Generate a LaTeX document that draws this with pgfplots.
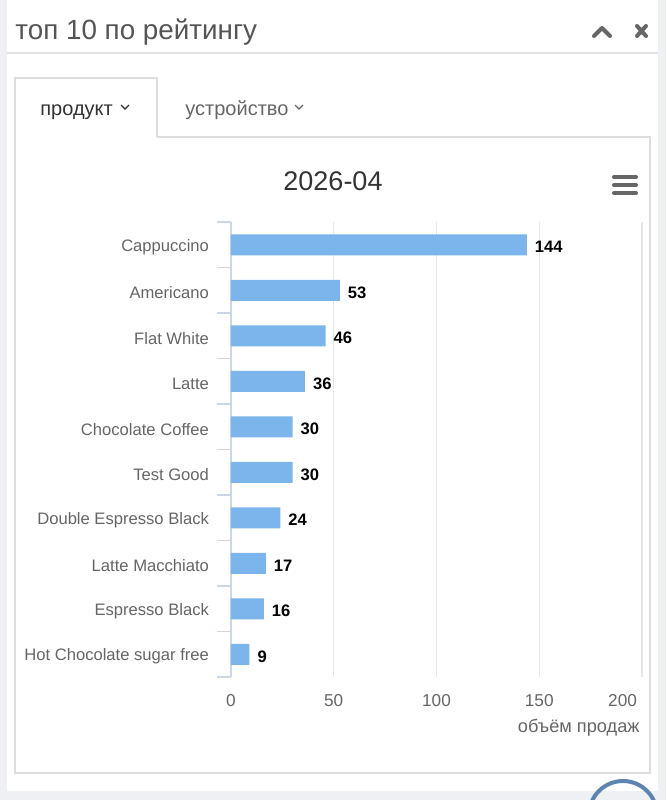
\documentclass[border=0pt]{standalone}
\usepackage{fontspec}
\setmainfont{Liberation Sans}
\usepackage{pgfplots}
\pgfplotsset{compat=1.18}
\definecolor{bgray}{HTML}{EFF0F4}
\definecolor{sepgray}{HTML}{E3E3E3}
\definecolor{tabgray}{HTML}{DDDDDD}
\definecolor{hdtext}{HTML}{555555}
\definecolor{lbl}{HTML}{666666}
\definecolor{ttl}{HTML}{333333}
\definecolor{axcol}{HTML}{CCD6EB}
\definecolor{gridcol}{HTML}{E6E6E6}
\definecolor{barcol}{HTML}{7CB5EC}
\definecolor{ringcol}{HTML}{5B84B1}
\begin{document}
\begin{tikzpicture}
\begin{scope}[x=0.5pt,y=-0.5pt]
\useasboundingbox (0,0) rectangle (666,800);
\clip (0,0) rectangle (666,800);
\fill[bgray] (0,0) rectangle (666,800);
\fill[white] (7,0) rectangle (658,791);
\draw[sepgray, line width=0.8pt] (7,53) -- (658,53);
\node[anchor=base west, text=hdtext, font=\fontsize{13.9}{16}\selectfont, inner sep=0pt] at (15,39.5) {топ 10 по рейтингу};
\draw[lbl, line width=2pt, line cap=round, line join=round] (594,36) -- (602,28) -- (610,36);
\draw[lbl, line width=2pt, line cap=round] (637,26) -- (646,36) (637,36) -- (646,26);
% tab and panel
\draw[tabgray, line width=0.6pt] (157,137) -- (157,78) -- (15,78) -- (15,773) -- (650,773) -- (650,137) -- (157,137);
\node[anchor=base west, text=ttl, font=\fontsize{10}{12}\selectfont, inner sep=0pt] at (40,115) {продукт};
\draw[ttl, line width=0.6pt] (121,105) -- (125,109) -- (129,105);
\node[anchor=base west, text=lbl, font=\fontsize{10}{12}\selectfont, inner sep=0pt] at (185,115) {устройство};
\draw[lbl, line width=0.6pt] (295,105) -- (299,109) -- (303,105);
% chart title and menu
\node[text=ttl, font=\fontsize{13.5}{16}\selectfont, inner sep=0pt] at (333,181) {2026-04};
\draw[lbl, line width=2pt, line cap=round] (614,177) -- (636,177) (614,185) -- (636,185) (614,193) -- (636,193);
% ring at bottom right
\draw[ringcol, line width=2pt] (623,815) circle (34);
\end{scope}
\begin{axis}[
  at={(115.5pt,-111pt)}, anchor=north west,
  scale only axis, width=205.5pt, height=227.5pt,
  xbar, bar width=10.5pt,
  xmin=0, xmax=200, ymin=-0.5, ymax=9.5, y dir=reverse,
  axis lines=left,
  x axis line style={draw=none},
  y axis line style={-, draw=axcol, line width=0.6pt},
  xtick={0,50,100,150}, 
  extra x ticks={200}, extra x tick labels={200},
  extra x tick style={xticklabel style={anchor=north east, xshift=1pt}},
  ytick={0,...,9},
  yticklabels={Cappuccino,Americano,Flat White,Latte,Chocolate Coffee,Test Good,Double Espresso Black,Latte Macchiato,Espresso Black,Hot Chocolate sugar free},
  minor ytick={-0.5,0.5,...,9.5},
  tick align=outside,
  major tick length=0pt, minor tick length=7pt,
  minor tick style={draw=axcol, line width=0.6pt},
  xmajorgrids, major x grid style={draw=gridcol, line width=0.6pt},
  /pgf/number format/assume math mode=true,
  xticklabel style={font=\fontsize{8.6}{10}\selectfont, text=lbl, yshift=-5pt},
  yticklabel style={font=\fontsize{8.3}{10}\selectfont, text=lbl, xshift=-7.5pt, yshift=-1.2pt},
  xlabel={объём продаж},
  xlabel style={at={(rel axis cs:1,0)}, anchor=base east, yshift=-27.5pt, xshift=-1pt, font=\fontsize{9.1}{10}\selectfont, text=lbl, inner sep=0pt},
  point meta=x,
  nodes near coords, nodes near coords align=horizontal,
  every node near coord/.append style={font=\bfseries\fontsize{8.3}{10}\selectfont, text=black, xshift=0.5pt, yshift=-1.2pt},
]
\addplot[fill=barcol, draw=none] coordinates {
(144,0) (53,1) (46,2) (36,3) (30,4) (30,5) (24,6) (17,7) (16,8) (9,9)
};
\end{axis}
\end{tikzpicture}
\end{document}
